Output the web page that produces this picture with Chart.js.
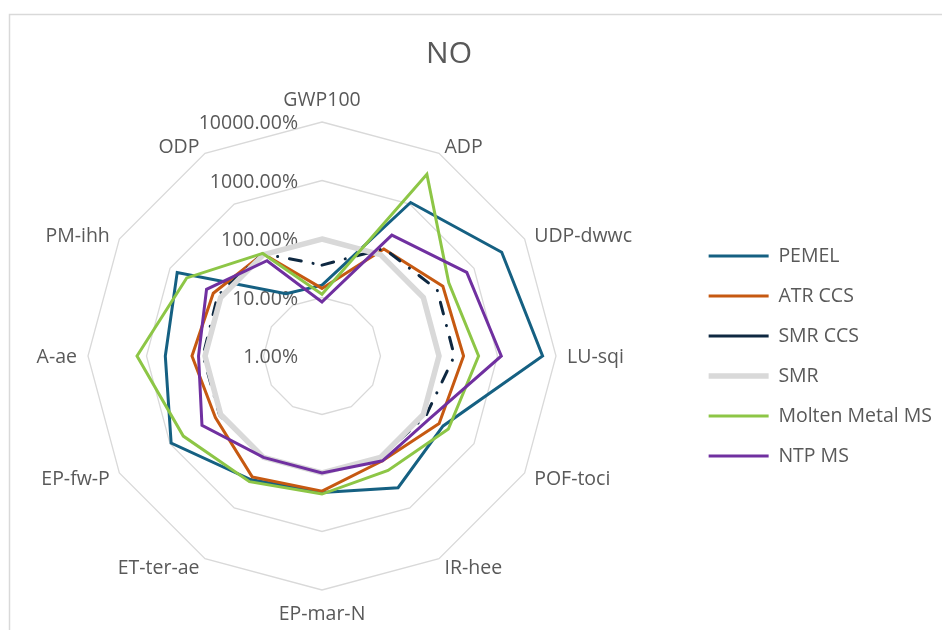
<!DOCTYPE html>
<html>
<head>
<meta charset="utf-8">
<title>NO</title>
<script src="https://cdn.jsdelivr.net/npm/chart.js@4.4.1/dist/chart.umd.min.js"></script>
<style>
  html, body { margin: 0; padding: 0; background: #ffffff; }
  #wrap { width: 942px; height: 630px; position: relative; }
  canvas { display: block; }
</style>
</head>
<body>
<div id="wrap"><canvas id="chart" width="942" height="630"></canvas></div>
<script>
// Impact categories, clockwise from the top
const categories = ['GWP100', 'ADP', 'UDP-dwwc', 'LU-sqi', 'POF-toci', 'IR-hee',
                    'EP-mar-N', 'ET-ter-ae', 'EP-fw-P', 'A-ae', 'PM-ihh', 'ODP'];

const seriesNames = ['PEMEL', 'ATR CCS', 'SMR CCS', 'SMR', 'Molten Metal MS', 'NTP MS'];

// Impact relative to SMR, in percent
const pemel       = [16.3, 1070, 3524, 5900, 246, 398, 215, 275, 950, 477, 721, 17];
const atrCcs      = [14.3, 130, 243, 263, 205, 117, 204, 243, 127, 167, 140, 104];
const smrCcs      = [35.8, 132, 187, 183, 112, 100, 100, 100, 105, 108, 115, 105];
const smr         = [100, 100, 100, 100, 100, 100, 100, 100, 100, 100, 100, 100];
const moltenMetal = [11.4, 3855, 318, 475, 312, 181, 229, 302, 547, 1453, 468, 106];
const ntpMs       = [8.4, 244, 721, 1161, 135, 117, 100, 100, 234, 129, 190, 76];

// Radial axis ticks (log scale, percent)
const tickValues = [1, 10, 100, 1000, 10000];

const chartTitle = 'NO';

const FONT = "'Open Sans', 'Noto Sans', sans-serif";
const TEXT = '#595959';
const LABEL_SIZE = 19.5;

const seriesValues = [pemel, atrCcs, smrCcs, smr, moltenMetal, ntpMs];
const seriesStyle = [
  { color: '#156082', width: 3, dash: [] },
  { color: '#C65911', width: 3, dash: [] },
  { color: '#0E2841', width: 3, dash: [12, 12, 0.1, 12] },
  { color: '#D9D9D9', width: 5.5, dash: [] },
  { color: '#8DC646', width: 3, dash: [] },
  { color: '#7030A0', width: 3, dash: [] }
];

// Layout: plot centre, legend column, title position
const PLOT_CX = 322;
const TITLE_X = 449;
const TITLE_Y = 54;
const legendPad = 40 - LABEL_SIZE;
const legendLine = 60;
const measureCtx = document.createElement('canvas').getContext('2d');
measureCtx.font = LABEL_SIZE + 'px ' + FONT;
const maxText = Math.max(...seriesNames.map(n => measureCtx.measureText(n).width));
const legendWidth = legendPad + legendLine + LABEL_SIZE / 2 + maxText + 10;
const legendLeft = 710 - legendPad;
const padRight = Math.max(0, 942 - legendLeft - legendWidth);

// Frame, title, tick labels and category labels drawn around the radial scale
const radarText = {
  id: 'radarText',
  beforeDraw(chart) {
    const ctx = chart.ctx;
    ctx.save();
    ctx.strokeStyle = '#D9D9D9';
    ctx.lineWidth = 1.5;
    ctx.beginPath();
    ctx.moveTo(9.5, 640);
    ctx.lineTo(9.5, 14.5);
    ctx.lineTo(950, 14.5);
    ctx.stroke();

    ctx.font = '30px ' + FONT;
    ctx.fillStyle = TEXT;
    ctx.textAlign = 'center';
    ctx.textBaseline = 'middle';
    ctx.fillText(chartTitle, TITLE_X, TITLE_Y);
    ctx.restore();
  },
  beforeDatasetsDraw(chart) {
    const ctx = chart.ctx;
    const r = chart.scales.r;
    const R = r.drawingArea;
    ctx.save();
    ctx.font = LABEL_SIZE + 'px ' + FONT;
    ctx.fillStyle = TEXT;
    ctx.textBaseline = 'middle';

    // tick labels, right-aligned left of the vertical axis
    ctx.textAlign = 'right';
    tickValues.forEach(v => {
      const d = r.getDistanceFromCenterForValue(Math.log10(v));
      ctx.fillText(v.toFixed(2) + '%', r.xCenter - 24, r.yCenter - d + 1.5);
    });

    // category labels
    chart.data.labels.forEach((lab, i) => {
      const a = r.getIndexAngle(i);
      const s = Math.sin(a), c = Math.cos(a);
      const p = r.getPointPosition(i, R + 11);
      let y;
      if (Math.abs(s) < 0.01) {
        ctx.textAlign = 'center';
        y = p.y - c * 12;
      } else {
        ctx.textAlign = s > 0 ? 'left' : 'right';
        y = p.y + c * 2;
      }
      ctx.fillText(lab, p.x, y + 1.5);
    });
    ctx.restore();
  }
};

const datasets = seriesNames.map((name, i) => ({
  label: name,
  data: seriesValues[i].map(v => Math.log10(v)),
  borderColor: seriesStyle[i].color,
  backgroundColor: seriesStyle[i].color,
  borderWidth: seriesStyle[i].width,
  borderDash: seriesStyle[i].dash,
  borderCapStyle: 'round',
  fill: false,
  tension: 0,
  pointRadius: 0,
  pointHoverRadius: 0,
  order: seriesNames.length - 1 - i
}));

new Chart(document.getElementById('chart'), {
  type: 'radar',
  data: { labels: categories, datasets },
  plugins: [radarText],
  options: {
    responsive: false,
    animation: false,
    devicePixelRatio: 1,
    layout: { padding: { left: 0, right: padRight, top: 122, bottom: 40 } },
    scales: {
      r: {
        min: 0,
        max: 4,
        ticks: { display: false, stepSize: 1 },
        grid: { color: '#D9D9D9', lineWidth: 1.3 },
        angleLines: { display: false },
        pointLabels: { display: false },
        afterFit(scale) { scale.xCenter = PLOT_CX; }
      }
    },
    plugins: {
      title: { display: false },
      legend: {
        position: 'right',
        fullSize: false,
        labels: {
          usePointStyle: true,
          pointStyle: 'line',
          pointStyleWidth: legendLine,
          padding: legendPad,
          color: TEXT,
          font: { family: FONT, size: LABEL_SIZE },
          sort: (a, b) => a.datasetIndex - b.datasetIndex
        }
      },
      tooltip: { enabled: false }
    }
  }
});
</script>
</body>
</html>
